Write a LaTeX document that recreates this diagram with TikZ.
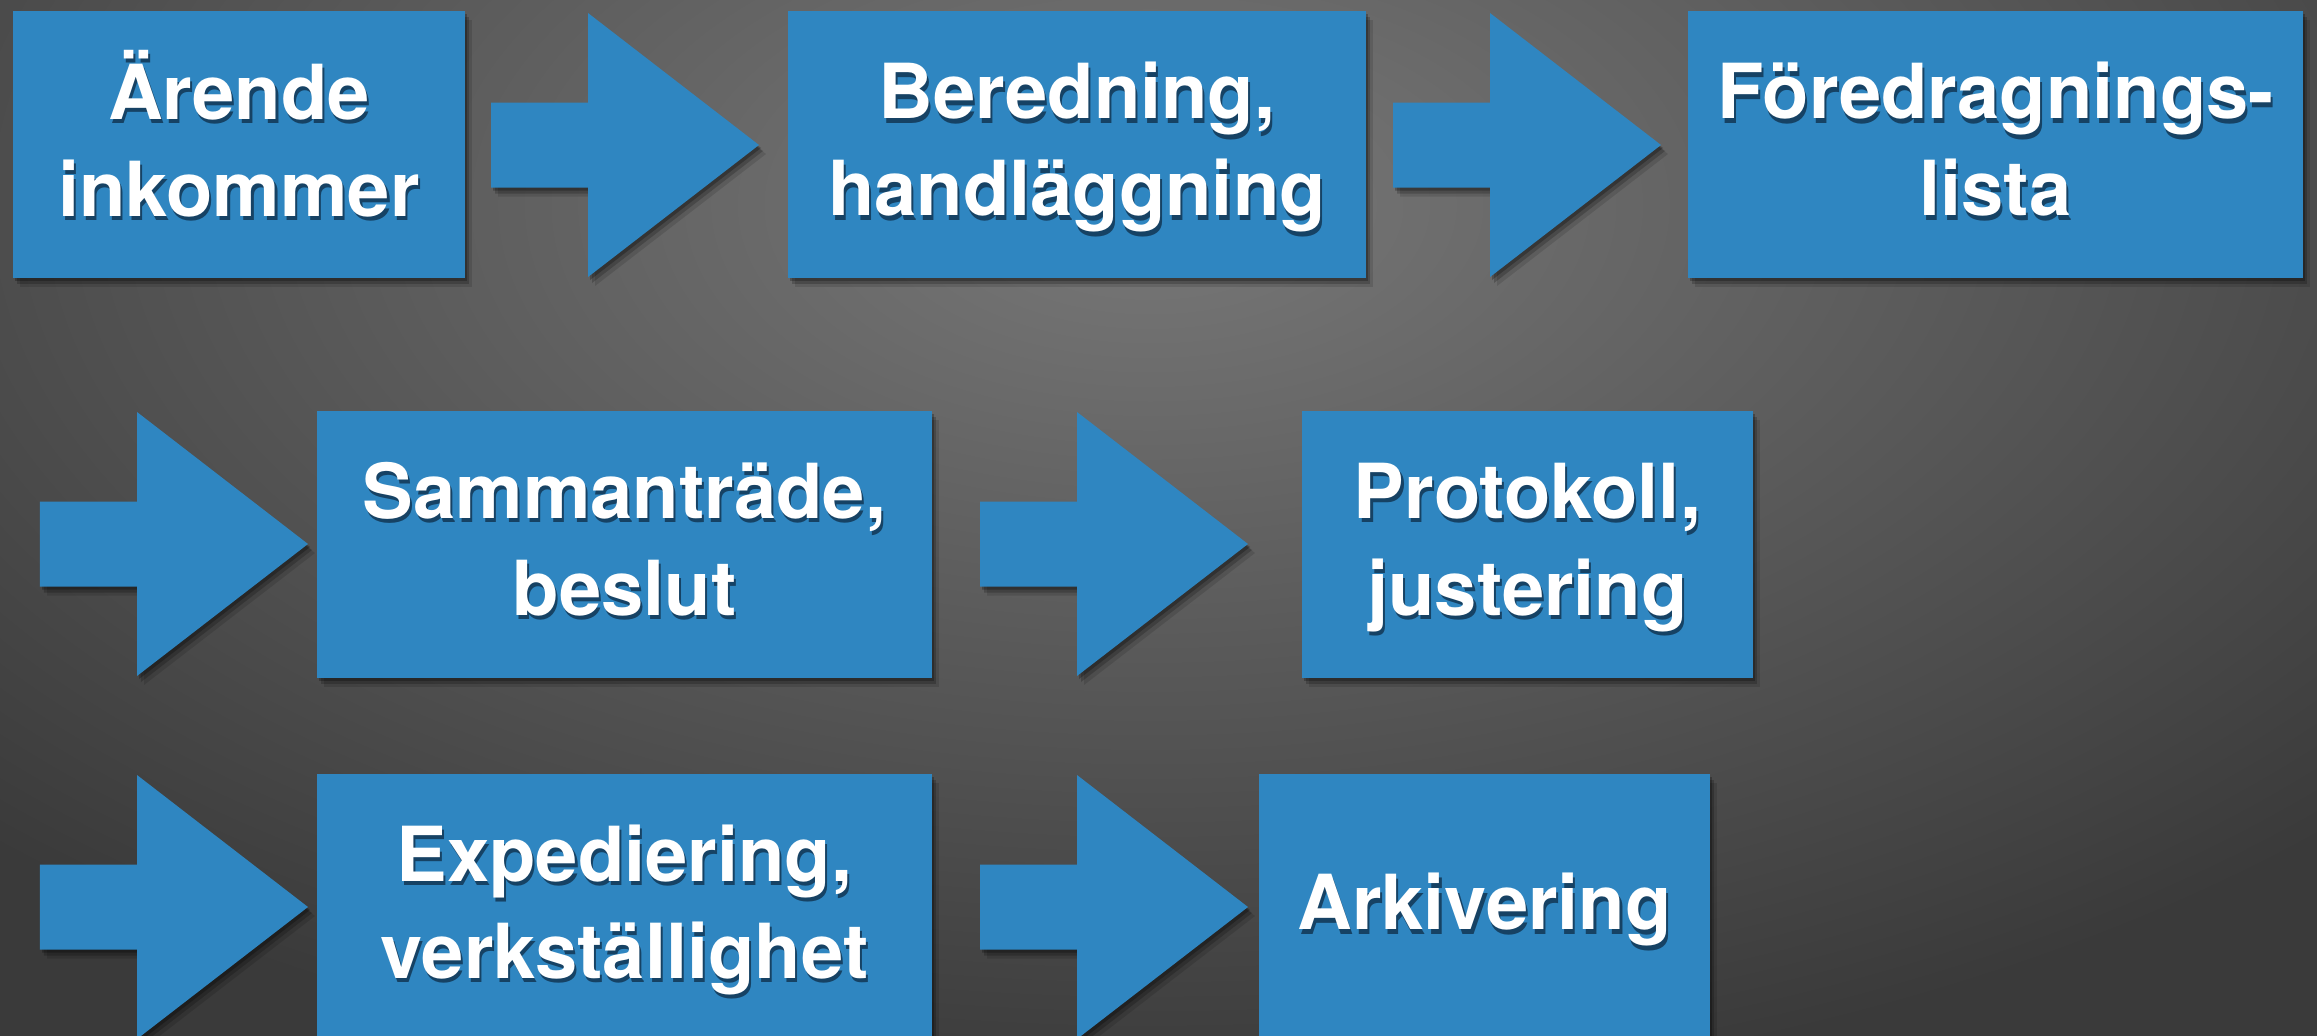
\documentclass[tikz,border=0pt]{standalone}
\usepackage{fontspec}
\setmainfont{TeX Gyre Heros}
\usetikzlibrary{shadows}

\definecolor{rutbla}{RGB}{47,134,193}
\definecolor{textskugga}{RGB}{22,66,100}
\definecolor{bgljus}{RGB}{120,120,120}
\definecolor{bgmork}{RGB}{58,58,58}

% text with a small shadow below it
\newcommand\skugg[1]{%
	\raisebox{-1.6pt}[\height][\depth]{%
	\rlap{\kern0.6pt\raisebox{-1.2pt}{\color{textskugga}\begin{tabular}{@{}c@{}}#1\end{tabular}}}%
	\begin{tabular}{@{}c@{}}#1\end{tabular}}}

% block arrow starting at a named coordinate
\newcommand\pil[1]{%
	\fill[pil] (#1) ++(0,0.425) -- ++(0.97,0) -- ++(0,0.895) -- ++(1.71,-1.32)
	-- ++(-1.71,-1.32) -- ++(0,0.895) -- ++(-0.97,0) -- cycle;}

\tikzset{
	mjuk/.style={
		drop shadow={shadow xshift=0.02cm, shadow yshift=-0.03cm, fill=black, opacity=0.25},
		drop shadow={shadow xshift=0.04cm, shadow yshift=-0.06cm, fill=black, opacity=0.2},
		drop shadow={shadow xshift=0.07cm, shadow yshift=-0.09cm, fill=black, opacity=0.12}},
	ruta/.style={mjuk, fill=rutbla, text=white, minimum height=2.67cm, inner sep=0pt,
		font=\fontsize{21.6}{27.6}\selectfont\bfseries},
	pil/.style={mjuk, fill=rutbla}
}

\begin{document}
\begin{tikzpicture}
	\useasboundingbox (0,0) rectangle (23.17,10.35);
	\fill[bgmork] (-0.2,-0.2) rectangle (23.4,10.6);
	\begin{scope}
		\clip (-0.2,-0.2) rectangle (23.4,10.6);
		\shade[inner color=bgljus, outer color=bgmork] (11.5,8.3) ellipse (16.5cm and 9cm);
	\end{scope}

	% rad 1
	\node[ruta, minimum width=4.52cm] (arende) at (2.39,8.905) {\skugg{Ärende\\inkommer}};
	\coordinate (p1) at (4.91,8.90);
	\pil{p1}
	\node[ruta, minimum width=5.78cm] (beredning) at (10.77,8.905) {\skugg{Beredning,\\handläggning}};
	\coordinate (p2) at (13.93,8.90);
	\pil{p2}
	\node[ruta, minimum width=6.15cm] (lista) at (19.955,8.905) {\skugg{Föredragnings-\\lista}};

	% rad 2
	\coordinate (p3) at (0.40,4.91);
	\pil{p3}
	\node[ruta, minimum width=6.15cm] (beslut) at (6.245,4.91) {\skugg{Sammanträde,\\beslut}};
	\coordinate (p4) at (9.80,4.91);
	\pil{p4}
	\node[ruta, minimum width=4.51cm] (protokoll) at (15.275,4.91) {\skugg{Protokoll,\\justering}};

	% rad 3
	\coordinate (p5) at (0.40,1.28);
	\pil{p5}
	\node[ruta, minimum width=6.15cm] (expediering) at (6.245,1.28) {\skugg{Expediering,\\verkställighet}};
	\coordinate (p6) at (9.80,1.28);
	\pil{p6}
	\node[ruta, minimum width=4.51cm] (arkiv) at (14.845,1.28) {\skugg{Arkivering}};
\end{tikzpicture}
\end{document}
